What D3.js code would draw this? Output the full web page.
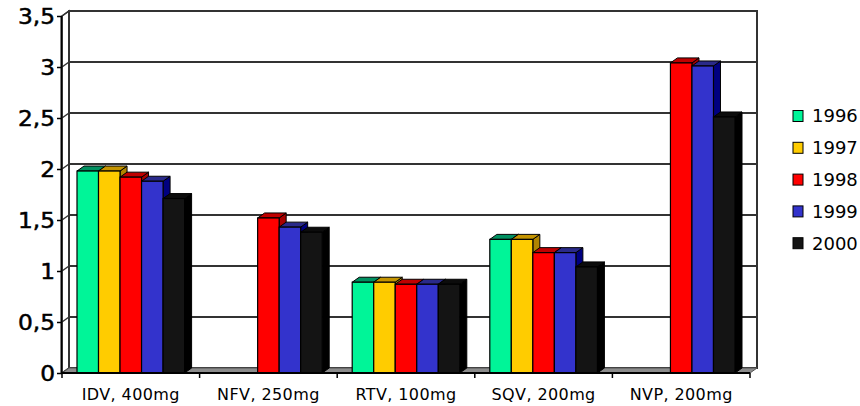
<!DOCTYPE html>
<html>
<head>
<meta charset="utf-8">
<script src="https://cdn.jsdelivr.net/npm/d3@7"></script>
<style>
  html, body { margin: 0; padding: 0; background: #fff; }
  svg { display: block; }
  text { font-family: "DejaVu Sans", Verdana, sans-serif; fill: #000; }
</style>
</head>
<body>
<svg id="chart" width="860" height="406"></svg>
<script>
// Drug doses per year
const categories = ["IDV, 400mg", "NFV, 250mg", "RTV, 100mg", "SQV, 200mg", "NVP, 200mg"];
const years = ["1996", "1997", "1998", "1999", "2000"];
const v1996 = [1.98, null, 0.89, 1.31, null];
const v1997 = [1.98, null, 0.89, 1.31, null];
const v1998 = [1.92, 1.52, 0.87, 1.18, 3.04];
const v1999 = [1.88, 1.43, 0.87, 1.18, 3.01];
const v2000 = [1.71, 1.38, 0.87, 1.04, 2.51];
const yTicks = [0, 0.5, 1, 1.5, 2, 2.5, 3, 3.5];

const series = [v1996, v1997, v1998, v1999, v2000];
const frontColors = ["#00f598", "#ffcc00", "#ff0000", "#3333cc", "#141414"];
const topColors   = ["#009060", "#c49400", "#c00000", "#2a2a8a", "#0c0c0c"];
const sideColors  = ["#007a50", "#b08400", "#a80000", "#000080", "#000000"];

const svg = d3.select("#chart");

// 3D depth offset of the plot box
const dx = 7, dy = 5;
const plotLeft = 62, plotRight = 750, plotBottom = 373, plotTop = 16;

const x = d3.scaleBand().domain(categories).range([plotLeft, plotRight]).paddingInner(0).paddingOuter(0);
const groupPad = 15;
const x1 = d3.scaleBand().domain(years).range([groupPad, x.bandwidth() - groupPad]).padding(0);
const y = d3.scaleLinear().domain([0, 3.5]).range([plotBottom, plotTop]);

// Left side wall
svg.append("polygon")
  .attr("points", [[plotLeft, plotTop], [plotLeft + dx, plotTop - dy], [plotLeft + dx, plotBottom - dy], [plotLeft, plotBottom]].join(" "))
  .attr("fill", "#fff").attr("stroke", "#333").attr("stroke-width", 1.5);

// Back wall
svg.append("rect")
  .attr("x", plotLeft + dx).attr("y", plotTop - dy)
  .attr("width", plotRight - plotLeft).attr("height", plotBottom - plotTop)
  .attr("fill", "#fff").attr("stroke", "#333").attr("stroke-width", 2);

// Gridlines on back wall plus connectors on the side wall
const grid = svg.append("g");
yTicks.forEach(t => {
  grid.append("line")
    .attr("x1", plotLeft + dx).attr("x2", plotRight + dx)
    .attr("y1", y(t) - dy).attr("y2", y(t) - dy)
    .attr("stroke", "#333").attr("stroke-width", 2);
  grid.append("line")
    .attr("x1", plotLeft).attr("x2", plotLeft + dx)
    .attr("y1", y(t)).attr("y2", y(t) - dy)
    .attr("stroke", "#333").attr("stroke-width", 1.5);
});

// Floor
svg.append("polygon")
  .attr("points", [[plotLeft, plotBottom], [plotLeft + dx, plotBottom - dy], [plotRight + dx, plotBottom - dy], [plotRight, plotBottom]].join(" "))
  .attr("fill", "#8c8c8c").attr("stroke", "#555").attr("stroke-width", 1);

// Bars drawn as 3D columns: side, top, front
const bars = svg.append("g");
categories.forEach((cat, ci) => {
  series.forEach((vals, si) => {
    const v = vals[ci];
    if (v == null) return;
    const bx = x(cat) + x1(years[si]);
    const bw = x1.bandwidth();
    const by = y(v);
    const b0 = y(0);
    bars.append("polygon")
      .attr("points", [[bx + bw, by], [bx + bw + dx, by - dy], [bx + bw + dx, b0 - dy], [bx + bw, b0]].join(" "))
      .attr("fill", sideColors[si]).attr("stroke", "#000").attr("stroke-width", 1);
    bars.append("polygon")
      .attr("points", [[bx, by], [bx + dx, by - dy], [bx + bw + dx, by - dy], [bx + bw, by]].join(" "))
      .attr("fill", topColors[si]).attr("stroke", "#000").attr("stroke-width", 1);
    bars.append("rect")
      .attr("x", bx).attr("y", by).attr("width", bw).attr("height", b0 - by)
      .attr("fill", frontColors[si]).attr("stroke", "#000").attr("stroke-width", 1.2);
  });
});

// Value axis
const yAxis = svg.append("g")
  .attr("transform", `translate(${plotLeft},0)`)
  .call(d3.axisLeft(y).tickValues(yTicks).tickSize(5).tickPadding(3)
    .tickFormat(d => String(d).replace(".", ",")));
yAxis.select(".domain").attr("stroke", "#000").attr("stroke-width", 2)
  .attr("d", `M-0.5,${plotTop}V${plotBottom}`);
yAxis.selectAll(".tick line").attr("stroke", "#000").attr("stroke-width", 1.5);
// Wide, heavy tick numerals
yAxis.selectAll(".tick text")
  .attr("font-size", 22).attr("font-family", "DejaVu Sans, Verdana, sans-serif")
  .attr("x", 0).attr("dy", "0.36em")
  .attr("transform", "translate(-7,0) scale(1.06,1)")
  .attr("stroke", "#000").attr("stroke-width", 0.5);

// Category axis
const xAxis = svg.append("g")
  .attr("transform", `translate(0,${plotBottom})`)
  .call(d3.axisBottom(x).tickSize(0).tickPadding(16));
xAxis.select(".domain").attr("stroke", "#000").attr("stroke-width", 2)
  .attr("d", `M${plotLeft},0H${plotRight}`);
xAxis.selectAll(".tick text")
  .attr("font-size", 16).attr("font-family", "DejaVu Sans, Verdana, sans-serif")
  .attr("letter-spacing", "0.4px");
// Boundary ticks between categories
const bounds = categories.map(c => x(c)).concat([plotRight]);
xAxis.selectAll(".bound").data(bounds).join("line")
  .attr("class", "bound")
  .attr("x1", d => d).attr("x2", d => d).attr("y1", 0).attr("y2", 5)
  .attr("stroke", "#000").attr("stroke-width", 1.5);

// Legend
const legend = svg.append("g").attr("transform", "translate(793,116)");
years.forEach((yr, i) => {
  const g = legend.append("g").attr("transform", `translate(0,${i * 31.8})`);
  g.append("rect").attr("x", 0).attr("y", -5.5).attr("width", 10).attr("height", 11)
    .attr("fill", frontColors[i]).attr("stroke", "#000").attr("stroke-width", 1);
  g.append("text").attr("x", 19).attr("y", 0).attr("dy", "0.36em")
    .attr("font-size", 18).text(yr);
});
</script>
</body>
</html>
